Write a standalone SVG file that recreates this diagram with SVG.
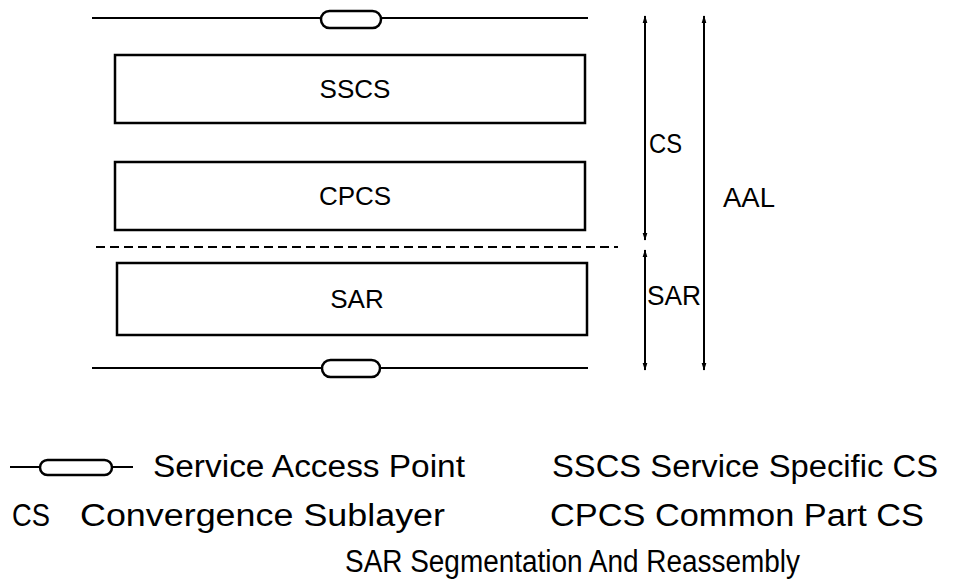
<svg xmlns="http://www.w3.org/2000/svg" width="961" height="580" viewBox="0 0 961 580">
  <defs>
    <marker id="head" viewBox="0 0 10 10" refX="9" refY="5" markerWidth="8" markerHeight="9" orient="auto-start-reverse" markerUnits="userSpaceOnUse">
      <path d="M0,2 L10,5 L0,8 z" fill="#000"/>
    </marker>
  </defs>
  <style>
    .ln { stroke: #000; stroke-width: 2; fill: none; }
    .box { stroke: #000; stroke-width: 2.5; fill: #fff; }
    .sap { stroke: #000; stroke-width: 2.5; fill: #fff; }
    .lbl { font-family: "Liberation Sans", Arial, sans-serif; font-size: 26px; fill: #000; }
    .rng { font-family: "Liberation Sans", Arial, sans-serif; font-size: 27px; fill: #000; }
    .leg { font-family: "Liberation Sans", Arial, sans-serif; font-size: 31px; fill: #000; }
  </style>
  <rect width="961" height="580" fill="#fff"/>

  <!-- service access point boundaries -->
  <g id="sap-top">
    <line class="ln" x1="92" y1="18" x2="588" y2="18"/>
    <rect class="sap" x="321" y="11" width="60" height="17" rx="8.5"/>
  </g>
  <g id="sap-bottom">
    <line class="ln" x1="92" y1="368" x2="588" y2="368"/>
    <rect class="sap" x="322" y="360" width="58" height="17" rx="8.5"/>
  </g>

  <!-- sublayer boxes -->
  <g id="sscs">
    <rect class="box" x="115" y="55" width="470" height="68"/>
    <text class="lbl" x="355" y="98" text-anchor="middle">SSCS</text>
  </g>
  <g id="cpcs">
    <rect class="box" x="115" y="162" width="470" height="68"/>
    <text class="lbl" x="355" y="205" text-anchor="middle">CPCS</text>
  </g>
  <line class="ln" x1="96" y1="247" x2="618" y2="247" stroke-dasharray="9,5"/>
  <g id="sar">
    <rect class="box" x="117" y="263" width="470" height="72"/>
    <text class="lbl" x="357" y="308" text-anchor="middle">SAR</text>
  </g>

  <!-- extent arrows -->
  <g id="connectors">
    <line class="ln" x1="645" y1="16" x2="645" y2="240" marker-start="url(#head)" marker-end="url(#head)"/>
    <line class="ln" x1="645" y1="250" x2="645" y2="370" marker-start="url(#head)" marker-end="url(#head)"/>
    <line class="ln" x1="704" y1="16" x2="704" y2="370" marker-start="url(#head)" marker-end="url(#head)"/>
  </g>
  <g id="range-labels">
    <text class="rng" x="649" y="153" textLength="33" lengthAdjust="spacingAndGlyphs">CS</text>
    <text class="rng" x="647" y="305" textLength="54" lengthAdjust="spacingAndGlyphs">SAR</text>
    <text class="rng" x="723" y="207" textLength="52" lengthAdjust="spacingAndGlyphs">AAL</text>
  </g>

  <!-- legend -->
  <g id="legend">
    <line class="ln" x1="10" y1="467" x2="133" y2="467"/>
    <rect class="sap" x="40" y="460" width="72" height="15" rx="7.5"/>
    <text class="leg" x="153" y="477" textLength="312" lengthAdjust="spacingAndGlyphs">Service Access Point</text>
    <text class="leg" x="552" y="477" textLength="386" lengthAdjust="spacingAndGlyphs">SSCS Service Specific CS</text>
    <text class="leg" x="12" y="526" textLength="38" lengthAdjust="spacingAndGlyphs">CS</text>
    <text class="leg" x="80" y="526" textLength="365" lengthAdjust="spacingAndGlyphs">Convergence Sublayer</text>
    <text class="leg" x="550" y="526" textLength="374" lengthAdjust="spacingAndGlyphs">CPCS  Common Part CS</text>
    <text class="leg" x="345" y="572" textLength="455" lengthAdjust="spacingAndGlyphs">SAR Segmentation And Reassembly</text>
  </g>
</svg>
